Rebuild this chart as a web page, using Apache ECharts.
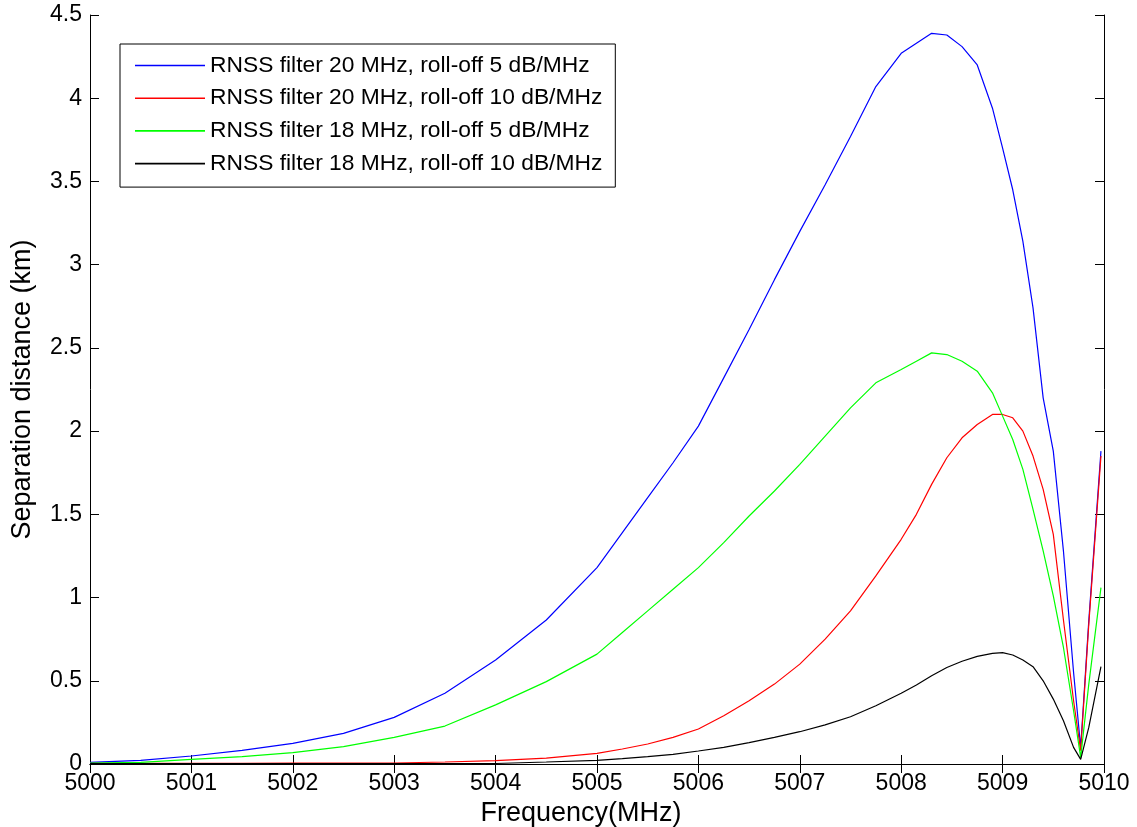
<!DOCTYPE html>
<html>
<head>
<meta charset="utf-8">
<script src="https://cdn.jsdelivr.net/npm/echarts@6/dist/echarts.min.js"></script>
<style>html,body{margin:0;padding:0;background:#fff;}#c{width:1137px;height:827px;}</style>
</head>
<body>
<div id="c"></div>
<script>
var freq = [5000, 5000.5, 5001, 5001.5, 5002, 5002.5, 5003, 5003.5, 5004, 5004.5, 5005, 5005.25, 5005.5, 5005.75, 5006, 5006.25, 5006.5, 5006.75, 5007, 5007.25, 5007.5, 5007.75, 5008, 5008.15, 5008.3, 5008.45, 5008.6, 5008.75, 5008.9, 5009, 5009.1, 5009.2, 5009.3, 5009.4, 5009.5, 5009.6, 5009.7, 5009.77, 5009.85, 5009.97];
var blue20_5 = [0.01, 0.022, 0.048, 0.082, 0.124, 0.184, 0.28, 0.425, 0.625, 0.865, 1.18, 1.39, 1.60, 1.81, 2.03, 2.32, 2.61, 2.91, 3.20, 3.48, 3.77, 4.07, 4.27, 4.33, 4.39, 4.38, 4.31, 4.20, 3.94, 3.70, 3.45, 3.14, 2.74, 2.20, 1.88, 1.28, 0.55, 0.10, 0.86, 1.88];
var red20_10 = [0.004, 0.004, 0.004, 0.004, 0.005, 0.005, 0.006, 0.012, 0.02, 0.035, 0.064, 0.09, 0.12, 0.16, 0.21, 0.29, 0.38, 0.48, 0.60, 0.75, 0.92, 1.13, 1.35, 1.50, 1.68, 1.84, 1.96, 2.04, 2.10, 2.10, 2.08, 2.00, 1.85, 1.65, 1.38, 0.865, 0.38, 0.08, 0.84, 1.85];
var green18_5 = [0.005, 0.01, 0.028, 0.044, 0.068, 0.104, 0.16, 0.228, 0.355, 0.495, 0.66, 0.79, 0.92, 1.05, 1.18, 1.33, 1.49, 1.64, 1.80, 1.97, 2.14, 2.29, 2.37, 2.42, 2.47, 2.46, 2.42, 2.36, 2.23, 2.09, 1.95, 1.77, 1.53, 1.28, 1.01, 0.70, 0.32, 0.04, 0.48, 1.06];
var black18_10 = [0.003, 0.003, 0.003, 0.003, 0.003, 0.003, 0.003, 0.003, 0.003, 0.012, 0.022, 0.032, 0.044, 0.058, 0.078, 0.10, 0.128, 0.16, 0.194, 0.235, 0.284, 0.35, 0.425, 0.475, 0.53, 0.58, 0.617, 0.647, 0.665, 0.669, 0.655, 0.625, 0.585, 0.50, 0.39, 0.26, 0.10, 0.028, 0.22, 0.585];
var seriesNames = ['RNSS filter 20 MHz, roll-off 5 dB/MHz', 'RNSS filter 20 MHz, roll-off 10 dB/MHz', 'RNSS filter 18 MHz, roll-off 5 dB/MHz', 'RNSS filter 18 MHz, roll-off 10 dB/MHz'];
var xTicks = [5000, 5001, 5002, 5003, 5004, 5005, 5006, 5007, 5008, 5009, 5010];
var yTicks = [0, 0.5, 1, 1.5, 2, 2.5, 3, 3.5, 4, 4.5];

var colors = ['#0000ff', '#ff0000', '#00ff00', '#000000'];
var values = [blue20_5, red20_10, green18_5, black18_10];
function pairs(v) { return freq.map(function (f, i) { return [f, v[i]]; }); }

var font = 'Liberation Sans, Arial, sans-serif';
var axisCommon = {
  axisLine: { show: true, lineStyle: { color: '#000', width: 1 } },
  axisTick: { show: true, inside: true, length: 9, lineStyle: { color: '#000', width: 1 } },
  splitLine: { show: false }
};

var chart = echarts.init(document.getElementById('c'), null, { renderer: 'canvas' });
chart.setOption({
  animation: false,
  backgroundColor: '#fff',
  grid: { left: 90, right: 33, top: 15, bottom: 63, containLabel: false, outerBoundsMode: 'none' },
  legend: {
    orient: 'vertical', left: 120, top: 44,
    padding: [10, 13, 12, 15],
    icon: 'rect',
    itemWidth: 70, itemHeight: 1.6, itemGap: 9.7,
    borderColor: '#000', borderWidth: 1, backgroundColor: '#fff',
    textStyle: { fontFamily: font, fontSize: 22.8, lineHeight: 23, color: '#000' },
    data: seriesNames
  },
  xAxis: [
    Object.assign({
      type: 'value', min: xTicks[0], max: xTicks[xTicks.length - 1], interval: 1, position: 'bottom',
      name: 'Frequency(MHz)', nameLocation: 'middle', nameGap: 35,
      nameTextStyle: { fontFamily: font, fontSize: 27, color: '#000', padding: [0, 32, 0, 0] },
      axisLabel: { fontFamily: font, fontSize: 23, color: '#000', margin: 8,
        formatter: function (v) { return String(v); } }
    }, axisCommon),
    Object.assign({
      type: 'value', min: xTicks[0], max: xTicks[xTicks.length - 1], interval: 1, position: 'top',
      axisLabel: { show: false }
    }, axisCommon)
  ],
  yAxis: [
    Object.assign({
      type: 'value', min: yTicks[0], max: yTicks[yTicks.length - 1], interval: 0.5, position: 'left',
      name: 'Separation distance (km)', nameLocation: 'middle', nameGap: 54, nameRotate: 90,
      nameTextStyle: { fontFamily: font, fontSize: 27, color: '#000' },
      axisLabel: { fontFamily: font, fontSize: 23, color: '#000', margin: 8,
        formatter: function (v) { return String(v); } }
    }, axisCommon),
    Object.assign({
      type: 'value', min: yTicks[0], max: yTicks[yTicks.length - 1], interval: 0.5, position: 'right',
      axisLabel: { show: false }
    }, axisCommon)
  ],
  series: values.map(function (v, i) {
    return {
      name: seriesNames[i], type: 'line', xAxisIndex: 0, yAxisIndex: 0,
      symbol: 'none', smooth: false,
      lineStyle: { color: colors[i], width: 1.2 },
      itemStyle: { color: colors[i] },
      data: pairs(v)
    };
  })
});
</script>
</body>
</html>
